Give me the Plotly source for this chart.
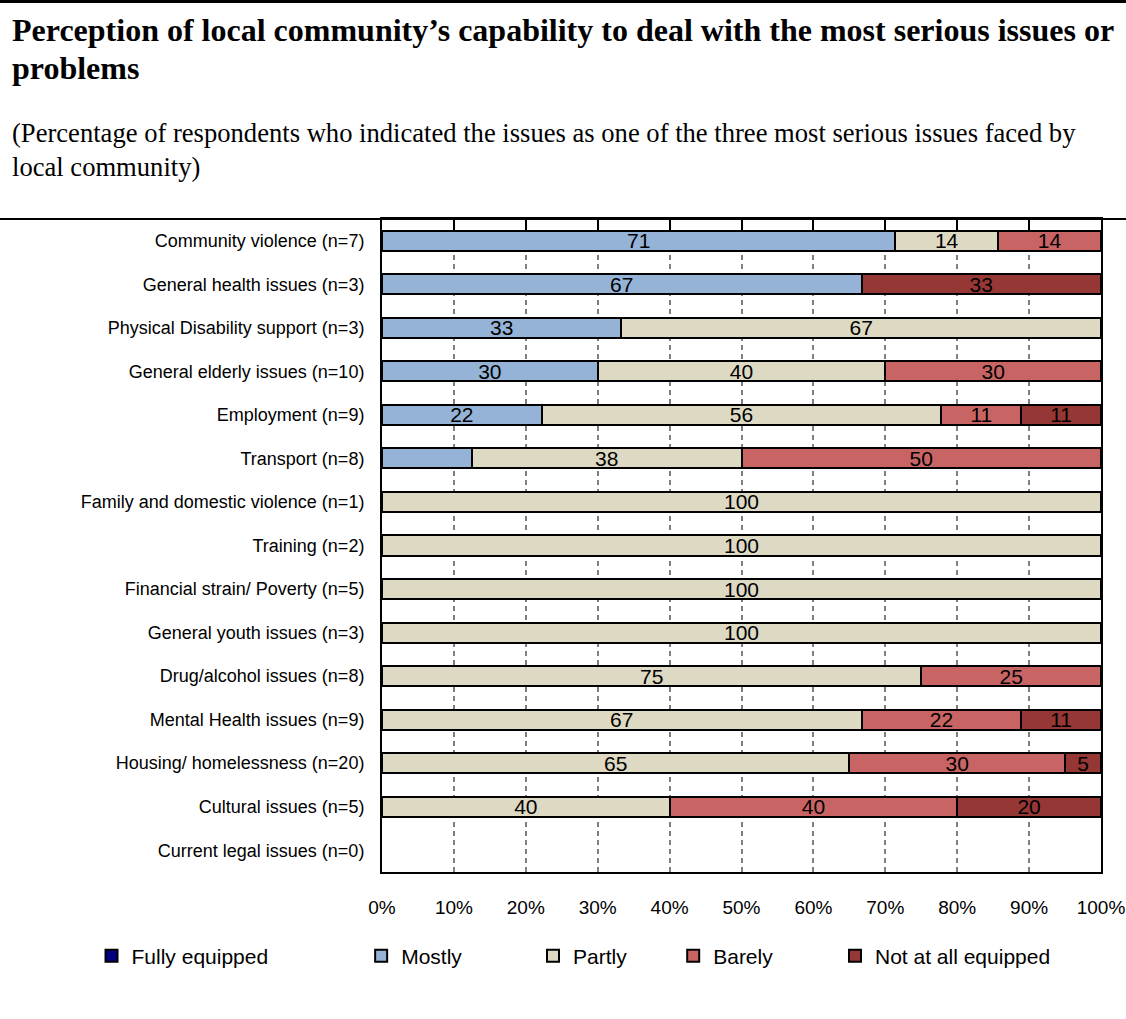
import plotly.graph_objects as go

# Issues, top to bottom
categories = [
    "Community violence (n=7)",
    "General health issues (n=3)",
    "Physical Disability support (n=3)",
    "General elderly issues (n=10)",
    "Employment (n=9)",
    "Transport (n=8)",
    "Family and domestic violence (n=1)",
    "Training (n=2)",
    "Financial strain/ Poverty (n=5)",
    "General youth issues (n=3)",
    "Drug/alcohol issues (n=8)",
    "Mental Health issues (n=9)",
    "Housing/ homelessness (n=20)",
    "Cultural issues (n=5)",
    "Current legal issues (n=0)",
]

# Percentage of respondents per capability level (printed rounded to whole numbers)
fully_equipped = [None] * 15
mostly = [71.4, 66.7, 33.3, 30, 22.2, 12.5, None, None, None, None, None, None, None, None, None]
partly = [14.3, None, 66.7, 40, 55.6, 37.5, 100, 100, 100, 100, 75, 66.7, 65, 40, None]
barely = [14.3, None, None, 30, 11.1, 50, None, None, None, None, 25, 22.2, 30, 40, None]
not_at_all = [None, 33.3, None, None, 11.1, None, None, None, None, None, None, 11.1, 5, 20, None]

# Segments too narrow to carry a printed value
unlabelled = {("Mostly", "Transport (n=8)")}

x_ticks = [0, 10, 20, 30, 40, 50, 60, 70, 80, 90, 100]
x_tick_labels = ["0%", "10%", "20%", "30%", "40%", "50%", "60%", "70%", "80%", "90%", "100%"]

series = [
    ("Fully equipped", fully_equipped, "#000080"),
    ("Mostly", mostly, "#95B3D7"),
    ("Partly", partly, "#DDD9C3"),
    ("Barely", barely, "#C96464"),
    ("Not at all equipped", not_at_all, "#953735"),
]

# Legend anchor (paper x) for each series
legend_x = [-0.404, -0.029, 0.210, 0.405, 0.630]

fig = go.Figure()
for i, (name, vals, color) in enumerate(series):
    texts = []
    for cat, v in zip(categories, vals):
        if v is None or (name, cat) in unlabelled:
            texts.append("")
        else:
            texts.append(f"{v:.0f}" if v != 37.5 else "38")
    lname = "legend" if i == 0 else f"legend{i + 1}"
    fig.add_trace(go.Bar(
        name=name,
        y=categories,
        x=vals,
        orientation="h",
        marker=dict(color=color, line=dict(color="#000000", width=2)),
        text=texts,
        textposition="inside",
        insidetextanchor="middle",
        textangle=0,
        constraintext="none",
        textfont=dict(family="Liberation Sans, Arial", size=21, color="#000000"),
        legend=lname,
        hoverinfo="skip",
    ))

layout_legends = {}
for i, lx in enumerate(legend_x):
    key = "legend" if i == 0 else f"legend{i + 1}"
    layout_legends[key] = dict(
        x=lx, y=-0.1286, xanchor="left", yanchor="middle",
        orientation="h",
        bgcolor="rgba(0,0,0,0)",
        font=dict(family="Liberation Sans, Arial", size=21, color="#000000"),
        itemclick=False, itemdoubleclick=False,
    )

fig.update_layout(
    barmode="stack",
    bargap=0.54,
    width=1126,
    height=1019,
    margin=dict(l=382, r=25, t=219, b=147, autoexpand=False),
    paper_bgcolor="white",
    plot_bgcolor="white",
    showlegend=True,
    **layout_legends,
)

fig.update_xaxes(
    range=[0, 100],
    tickvals=x_ticks,
    ticktext=x_tick_labels,
    showgrid=True,
    gridcolor="#7f7f7f",
    gridwidth=1.5,
    griddash="5px,4px",
    zeroline=False,
    showline=True,
    linecolor="#000000",
    linewidth=2,
    mirror=True,
    ticks="",
    automargin=False,
    ticklabelstandoff=17,
    tickfont=dict(family="Liberation Sans, Arial", size=19, color="#000000"),
    fixedrange=True,
)

fig.update_yaxes(
    categoryorder="array",
    categoryarray=categories,
    autorange="reversed",
    showgrid=False,
    zeroline=False,
    showline=True,
    linecolor="#000000",
    linewidth=2,
    mirror=True,
    ticks="",
    automargin=False,
    ticklabelstandoff=12,
    tickfont=dict(family="Liberation Sans, Arial", size=18, color="#000000"),
    fixedrange=True,
)

# Short tick marks hanging inside from the top edge
fig.update_layout(
    xaxis2=dict(
        overlaying="x", side="top", range=[0, 100],
        tickvals=x_ticks, showticklabels=False,
        ticks="inside", ticklen=12, tickwidth=1.5, tickcolor="#000000",
        showgrid=False, zeroline=False, showline=False, fixedrange=True,
        automargin=False,
    )
)
fig.add_trace(go.Scatter(x=[None], y=[None], xaxis="x2", showlegend=False, hoverinfo="skip"))

def py(p):
    # pixel row -> paper y
    return (872 - p) / 653

def px(p):
    # pixel column -> paper x
    return (p - 382) / 719

title_font = dict(family="Liberation Serif, Times New Roman", size=32, color="#000000")
sub_font = dict(family="Liberation Serif, Times New Roman", size=26.6, color="#000000")

for text, yy, font in [
    ("<b>Perception of local community’s capability to deal with the most serious issues or</b>", 30, title_font),
    ("<b>problems</b>", 68, title_font),
    ("(Percentage of respondents who indicated the issues as one of the three most serious issues faced by", 133, sub_font),
    ("local community)", 167, sub_font),
]:
    fig.add_annotation(
        text=text, xref="paper", yref="paper", x=px(10), y=py(yy),
        xanchor="left", yanchor="middle", showarrow=False, font=font,
    )

# Rules framing the header
fig.add_shape(type="line", xref="paper", yref="paper",
              x0=px(0), x1=px(1126), y0=py(1.5), y1=py(1.5),
              line=dict(color="#000000", width=3))
fig.add_shape(type="line", xref="paper", yref="paper",
              x0=px(0), x1=px(1126), y0=1, y1=1,
              line=dict(color="#000000", width=2))

fig.write_html("out.html")
